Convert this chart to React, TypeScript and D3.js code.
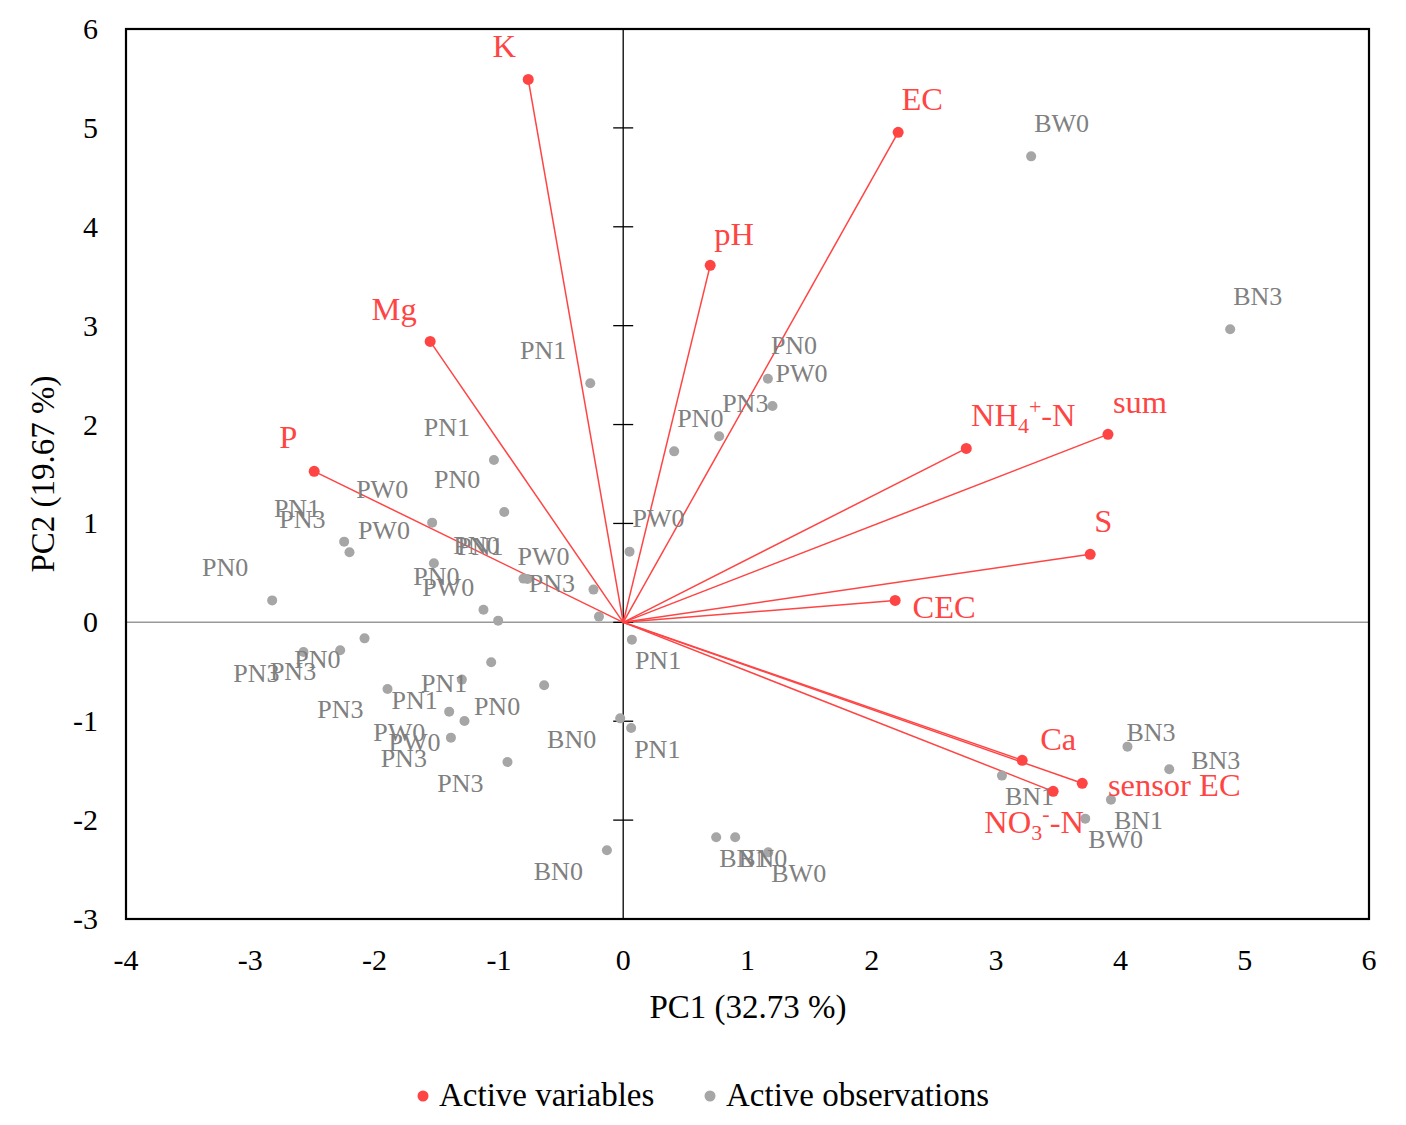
import React from "react";
import * as d3 from "d3";

// ---- Data ----
const varNames = ["K", "EC", "pH", "Mg", "P", "NH4", "sum", "S", "CEC", "Ca", "sensorEC", "NO3"];
const varPC1 = [-0.764, 2.212, 0.7, -1.553, -2.486, 2.76, 3.9, 3.757, 2.188, 3.21, 3.693, 3.459];
const varPC2 = [5.49, 4.955, 3.61, 2.841, 1.527, 1.759, 1.901, 0.688, 0.222, -1.395, -1.628, -1.709];
// label centre offsets in px for variable labels
const varLabelDX = [-24, 24, 24, -36, -26, 57, 32, 13, 49, 36, 92, -19];
const varLabelDY = [-33, -33, -31, -32, -34, -33, -32, -33, 7, -21, 2, 31];

const obsNames = [
  "PN1", "PN0", "PW0", "PN1", "PN3", "PW0", "PN0", "PN0", "PN1", "PW0", "PN0", "PW0", "PN3", "PW0", "PN1",
  "PN0", "PW0", "PN3", "PN0", "BW0", "BN3",
  "PN0", "PN3", "PN3", "PN1", "PN1", "PN3", "PN0", "PW0", "PW0", "PN3", "PN3", "BN0", "BN0",
  "PN1", "PN1", "BN1", "BN0", "BW0", "BN3", "BN3", "BN1", "BN1", "BW0",
];
const obsPC1 = [
  -1.04, -0.957, -1.537, -2.245, -2.202, -1.523, -2.824, -0.802, -0.77, -0.239, -1.124, -1.006, -0.195, 0.051, -0.265,
  1.164, 1.201, 0.772, 0.41, 3.282, 4.883,
  -2.081, -2.277, -2.572, -1.062, -1.298, -1.896, -0.636, -1.4, -1.277, -1.386, -0.931, -0.024, -0.131,
  0.07, 0.064, 0.748, 0.901, 1.167, 4.057, 4.393, 3.047, 3.924, 3.717,
];
const obsPC2 = [
  1.641, 1.115, 1.008, 0.816, 0.708, 0.597, 0.222, 0.442, 0.438, 0.331, 0.128, 0.017, 0.058, 0.715, 2.417,
  2.464, 2.187, 1.881, 1.729, 4.712, 2.963,
  -0.162, -0.283, -0.3, -0.404, -0.579, -0.674, -0.637, -0.903, -0.998, -1.166, -1.413, -0.971, -2.305,
  -0.175, -1.069, -2.174, -2.174, -2.326, -1.257, -1.486, -1.55, -1.793, -1.985,
];
// label placement codes
const obsPlace = [
  "UL", "UL", "UL", "UL", "UL", "UL", "UL", "UL", "UL", "UL", "UL", "UL", "UL", "UR", "UL",
  "UR", "UR", "UR", "UR", "UR", "UR",
  "LL", "LL", "LL", "LL", "LL", "LL", "LL", "LL", "LL", "LL", "LL", "LL", "LL",
  "LR", "LR", "LR", "LR", "LR", "U", "R", "LR", "LR", "LR",
];

const xTicks = [-4, -3, -2, -1, 0, 1, 2, 3, 4, 5, 6];
const yTicks = [-3, -2, -1, 0, 1, 2, 3, 4, 5, 6];

const RED = "#ff4444";
const GRAY_DOT = "#a6a6a6";
const GRAY_TXT = "#808080";
const FONT = "'Liberation Serif', 'Times New Roman', serif";

const placement: Record<string, { anchor: string; dx: number; dy: number }> = {
  UR: { anchor: "start", dx: 3, dy: -24.5 },
  UL: { anchor: "end", dx: -24, dy: -24.5 },
  LR: { anchor: "start", dx: 3, dy: 29.5 },
  LL: { anchor: "end", dx: -24, dy: 29.5 },
  U: { anchor: "start", dx: -1, dy: -6 },
  R: { anchor: "start", dx: 22, dy: 0 },
};

function VarLabel({ name }: { name: string }) {
  if (name === "NH4")
    return (
      <>
        NH<tspan fontSize={22} dy={7}>4</tspan>
        <tspan fontSize={22} dy={-19}>+</tspan>
        <tspan dy={12}>-N</tspan>
      </>
    );
  if (name === "NO3")
    return (
      <>
        NO<tspan fontSize={22} dy={7}>3</tspan>
        <tspan fontSize={22} dy={-19}>-</tspan>
        <tspan dy={12}>-N</tspan>
      </>
    );
  if (name === "sensorEC") return <>sensor EC</>;
  return <>{name}</>;
}

export default function App() {
  const W = 1406, H = 1125;
  const left = 126, right = 1369, top = 29, bottom = 919;
  const x = d3.scaleLinear().domain([-4, 6]).range([left, right]);
  const y = d3.scaleLinear().domain([-3, 6]).range([bottom, top]);
  const x0 = x(0), y0 = y(0);

  return (
    <svg width={W} height={H} style={{ position: "absolute", left: 0, top: 0 }} fontFamily={FONT}>
      <rect width={W} height={H} fill="#fff" />
      {/* zero horizontal line */}
      <line x1={left} x2={right} y1={y0} y2={y0} stroke="#999" strokeWidth={1.5} />
      {/* vertical axis */}
      <line x1={x0} x2={x0} y1={top} y2={bottom} stroke="#000" strokeWidth={1.3} />
      {yTicks.map((t) => (
        <line key={"yt" + t} x1={x0 - 10} x2={x0 + 10} y1={y(t)} y2={y(t)} stroke="#000" strokeWidth={1.3} />
      ))}
      {/* frame */}
      <rect x={left} y={top} width={right - left} height={bottom - top} fill="none" stroke="#000" strokeWidth={2.2} />

      {/* tick labels */}
      {yTicks.map((t) => (
        <text key={"yl" + t} x={98} y={y(t) + 10} textAnchor="end" fontSize={30} fill="#000">
          {t}
        </text>
      ))}
      {xTicks.map((t) => (
        <text key={"xl" + t} x={x(t)} y={970} textAnchor="middle" fontSize={30} fill="#000">
          {t}
        </text>
      ))}

      {/* axis titles */}
      <text x={748} y={1018} textAnchor="middle" fontSize={33} fill="#000">
        PC1 (32.73 %)
      </text>
      <text
        transform={`translate(54, ${474}) rotate(-90)`}
        textAnchor="middle"
        fontSize={33}
        fill="#000"
      >
        PC2 (19.67 %)
      </text>

      {/* variable vectors */}
      {varNames.map((n, i) => (
        <line key={"vl" + n} x1={x0} y1={y0} x2={x(varPC1[i])} y2={y(varPC2[i])} stroke={RED} strokeWidth={1.5} />
      ))}

      {/* observations */}
      {obsNames.map((n, i) => (
        <circle key={"od" + i} cx={x(obsPC1[i])} cy={y(obsPC2[i])} r={5} fill={GRAY_DOT} />
      ))}
      {obsNames.map((n, i) => {
        const p = placement[obsPlace[i]];
        return (
          <text
            key={"ot" + i}
            x={x(obsPC1[i]) + p.dx}
            y={y(obsPC2[i]) + p.dy}
            textAnchor={p.anchor}
            fontSize={26}
            fill={GRAY_TXT}
          >
            {n}
          </text>
        );
      })}

      {/* variable points and labels */}
      {varNames.map((n, i) => (
        <circle key={"vd" + n} cx={x(varPC1[i])} cy={y(varPC2[i])} r={5.5} fill={RED} />
      ))}
      {varNames.map((n, i) => (
        <text
          key={"vt" + n}
          x={x(varPC1[i]) + varLabelDX[i]}
          y={y(varPC2[i]) + varLabelDY[i] + 10.5}
          textAnchor="middle"
          fontSize={32.5}
          fill={RED}
        >
          <VarLabel name={n} />
        </text>
      ))}

      {/* legend */}
      <circle cx={423} cy={1096} r={5.5} fill={RED} />
      <text x={439} y={1106} fontSize={33} fill="#000">
        Active variables
      </text>
      <circle cx={710} cy={1096} r={5.5} fill={GRAY_DOT} />
      <text x={726} y={1106} fontSize={33} fill="#000">
        Active observations
      </text>
    </svg>
  );
}
